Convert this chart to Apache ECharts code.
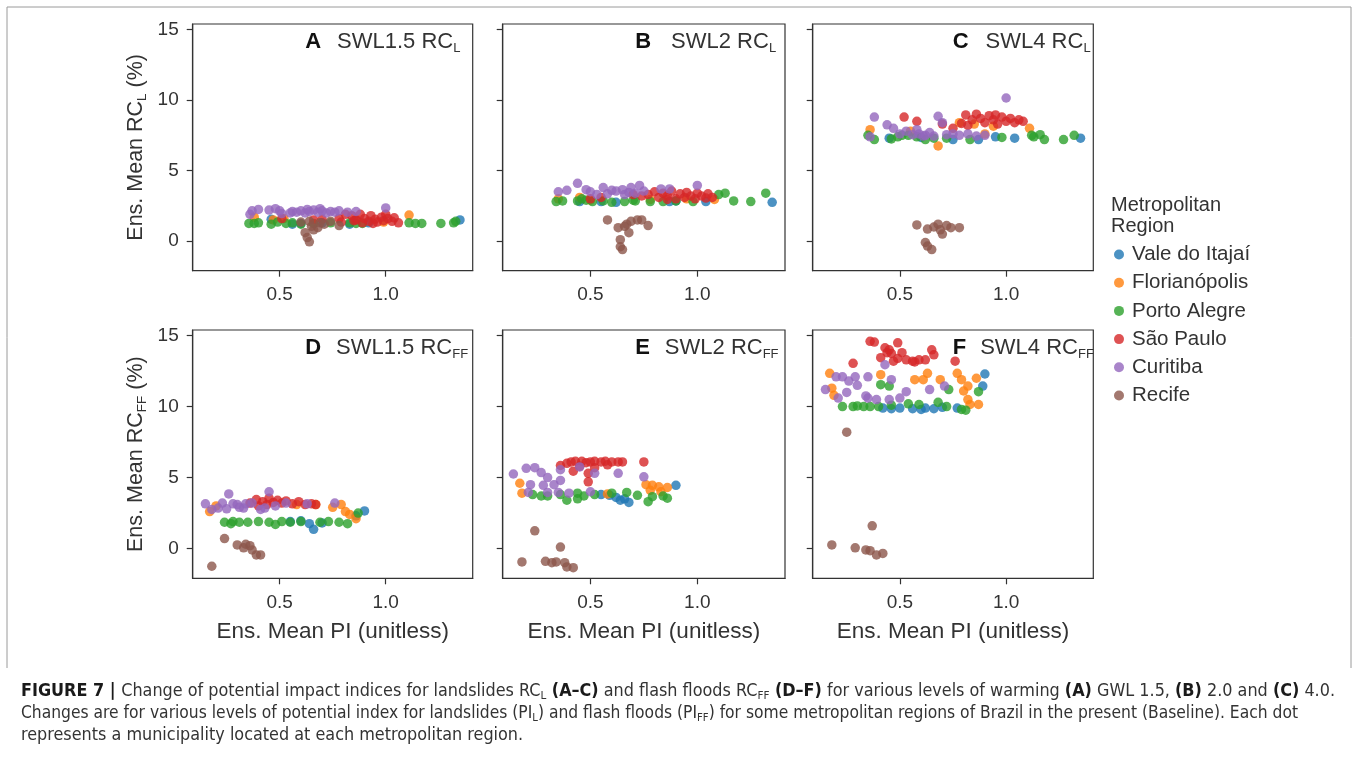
<!DOCTYPE html>
<html><head><meta charset="utf-8">
<script src="https://cdn.jsdelivr.net/npm/echarts@6/dist/echarts.min.js"></script>
<style>html,body{margin:0;padding:0;background:#fff}#c{width:1358px;height:763px}</style>
</head><body><div id="c"></div>
<script>
// ---------------- data ----------------
const regions = ['Vale do Itajaí','Florianópolis','Porto Alegre','São Paulo','Curitiba','Recife'];
const colors = ['#1f77b4','#ff7f0e','#2ca02c','#d62728','#9467bd','#8c564b'];
const xTicks = [0.5, 1.0];
const yTicks = [0, 5, 10, 15];
const panelLetters = ['A','B','C','D','E','F'];
const panelLevels = ['SWL1.5','SWL2','SWL4','SWL1.5','SWL2','SWL4'];
const panelSubs = ['L','L','L','FF','FF','FF'];

// Panel A: SWL1.5 RC_L
const A_vale = [[0.46,1.55],[0.56,1.2],[0.6,1.25],[0.83,1.2],[0.92,1.3],[1.35,1.5],[0.70,1.3]];
const A_flor = [[0.47,1.5],[0.52,1.6],[1.11,1.85],[0.99,1.35],[0.38,1.7],[0.86,1.5]];
const A_porto = [[0.355,1.25],[0.38,1.25],[0.40,1.3],[0.46,1.2],[0.49,1.35],[0.53,1.25],[0.56,1.3],[0.60,1.2],[0.66,1.25],[0.74,1.3],[0.83,1.3],[0.86,1.25],[0.89,1.25],[1.11,1.3],[1.14,1.25],[1.17,1.25],[1.26,1.25],[1.32,1.3],[1.33,1.4]];
const A_sp = [[0.51,1.6],[0.78,1.6],[0.81,1.9],[0.84,1.8],[0.86,1.5],[0.88,1.9],[0.9,1.6],[0.92,1.4],[0.93,1.8],[0.95,1.55],[0.96,1.35],[0.98,1.7],[0.99,1.45],[1.0,1.9],[1.01,1.6],[1.03,1.4],[1.04,1.65],[1.06,1.3],[0.94,1.25],[0.89,1.3],[0.85,1.45],[0.79,1.35],[0.66,1.5],[0.70,1.55]];
const A_curi = [[0.36,1.9],[0.37,2.15],[0.4,2.25],[0.45,2.2],[0.48,2.3],[0.5,2.15],[0.51,1.95],[0.56,2.1],[0.58,2.05],[0.6,2.15],[0.62,2.0],[0.64,2.1],[0.66,2.2],[0.68,2.05],[0.7,2.15],[0.72,2.0],[0.74,2.1],[0.76,2.05],[0.78,2.15],[0.82,2.05],[0.86,2.1],[1.0,2.35],[0.55,2.0],[0.63,2.25],[0.69,2.3]];
const A_recife = [[0.6,1.35],[0.64,1.4],[0.69,1.3],[0.74,1.4],[0.78,1.1],[0.62,0.6],[0.63,0.25],[0.64,-0.05],[0.68,0.95],[0.71,1.2],[0.66,0.8],[0.65,1.05]];

// Panel B: SWL2 RC_L
const B_vale = [[0.45,2.8],[0.55,2.8],[0.62,2.75],[0.87,2.8],[0.9,2.85],[1.04,2.8],[1.35,2.75]];
const B_flor = [[0.35,3.0],[0.5,2.9],[0.78,2.95],[0.95,3.0],[1.08,2.95],[0.45,3.1]];
const B_porto = [[0.34,2.8],[0.37,2.85],[0.44,2.85],[0.48,2.9],[0.51,2.8],[0.56,2.85],[0.6,2.75],[0.66,2.8],[0.71,2.85],[0.78,2.8],[0.84,2.8],[0.9,2.85],[0.98,2.8],[1.1,3.3],[1.13,3.4],[1.17,2.85],[1.25,2.8],[1.32,3.4],[0.7,2.9],[0.46,3.0]];
const B_sp = [[0.77,3.3],[0.8,3.5],[0.82,3.1],[0.84,3.4],[0.86,3.2],[0.88,3.55],[0.9,3.0],[0.92,3.35],[0.94,3.1],[0.95,3.45],[0.97,3.2],[0.99,3.0],[1.0,3.4],[1.02,3.2],[1.04,3.05],[1.05,3.35],[1.07,3.1],[0.86,2.95],[0.74,3.2],[0.7,3.3],[0.5,3.0],[0.55,3.1]];
const B_curi = [[0.35,3.5],[0.39,3.6],[0.44,4.1],[0.48,3.65],[0.5,3.5],[0.56,3.8],[0.58,3.35],[0.62,3.55],[0.65,3.65],[0.68,3.45],[0.69,3.8],[0.73,3.95],[0.75,3.55],[0.83,3.7],[0.87,3.7],[1.0,3.95],[0.6,3.6],[0.66,3.3],[0.71,3.4],[0.53,3.3]];
const B_recife = [[0.58,1.5],[0.63,0.95],[0.66,1.05],[0.69,1.4],[0.72,1.5],[0.74,1.5],[0.77,1.1],[0.68,0.6],[0.64,0.1],[0.64,-0.4],[0.65,-0.6],[0.67,1.2]];

// Panel C: SWL4 RC_L
const C_vale = [[0.45,7.3],[0.75,7.2],[0.87,7.2],[1.04,7.3],[1.35,7.3],[0.6,7.35],[0.95,7.4]];
const C_flor = [[0.36,7.9],[0.68,6.75],[0.85,8.3],[0.94,8.15],[1.11,8.0],[0.55,7.8],[0.78,8.4],[0.9,7.6]];
const C_porto = [[0.35,7.5],[0.38,7.2],[0.46,7.25],[0.49,7.4],[0.51,7.5],[0.54,7.5],[0.58,7.4],[0.62,7.2],[0.72,7.3],[0.83,7.2],[0.98,7.35],[1.12,7.5],[1.13,7.4],[1.16,7.55],[1.18,7.2],[1.27,7.2],[1.32,7.5],[0.66,7.3]];
const C_sp = [[0.58,8.5],[0.79,8.35],[0.81,8.95],[0.84,8.6],[0.86,9.0],[0.88,8.7],[0.9,8.4],[0.92,8.9],[0.94,8.6],[0.96,8.3],[0.98,8.8],[1.0,8.5],[1.02,8.7],[1.04,8.4],[1.06,8.6],[1.08,8.5],[0.82,8.2],[0.95,8.95],[0.7,8.3],[0.75,8.0],[0.52,8.8]];
const C_curi = [[0.36,7.4],[0.38,8.8],[0.44,8.25],[0.47,8.0],[0.5,7.6],[0.53,7.8],[0.56,7.55],[0.59,7.6],[0.62,7.5],[0.64,7.7],[0.66,7.45],[0.68,8.85],[0.7,8.4],[0.72,7.55],[0.75,7.6],[0.78,7.5],[0.82,7.6],[0.86,7.45],[0.9,7.5],[1.0,10.15],[0.58,7.9],[0.61,7.45]];
const C_recife = [[0.58,1.15],[0.63,0.85],[0.66,1.0],[0.68,1.2],[0.7,0.5],[0.74,0.95],[0.78,0.95],[0.62,-0.1],[0.63,-0.35],[0.65,-0.6],[0.69,0.8],[0.72,1.1]];

// Panel D: SWL1.5 RC_FF
const D_vale = [[0.6,1.95],[0.64,1.75],[0.66,1.35],[0.7,1.8],[0.9,2.65],[0.86,2.3],[0.55,1.9]];
const D_flor = [[0.17,2.6],[0.2,3.0],[0.58,3.1],[0.67,3.1],[0.79,3.1],[0.81,2.6],[0.86,2.1],[0.75,2.9],[0.83,2.4]];
const D_porto = [[0.24,1.85],[0.28,1.9],[0.31,1.85],[0.35,1.85],[0.4,1.9],[0.45,1.85],[0.51,1.9],[0.55,1.85],[0.6,1.9],[0.69,1.85],[0.73,1.9],[0.78,1.85],[0.82,1.75],[0.87,2.5],[0.27,1.75],[0.48,1.7]];
const D_sp = [[0.36,3.2],[0.39,3.45],[0.42,3.3],[0.45,3.55],[0.47,3.25],[0.49,3.4],[0.51,3.2],[0.53,3.35],[0.56,3.15],[0.59,3.3],[0.62,3.1],[0.65,3.15],[0.67,3.1],[0.44,3.1],[0.4,3.0]];
const D_curi = [[0.15,3.15],[0.18,2.75],[0.21,2.85],[0.23,3.2],[0.26,3.85],[0.28,3.15],[0.3,3.1],[0.33,2.85],[0.34,3.15],[0.37,3.2],[0.41,2.75],[0.45,4.0],[0.48,3.0],[0.53,3.2],[0.63,3.15],[0.76,3.2],[0.25,2.8],[0.31,2.9],[0.43,2.85]];
const D_recife = [[0.24,0.7],[0.3,0.25],[0.34,0.3],[0.37,-0.1],[0.39,-0.45],[0.41,-0.45],[0.18,-1.25],[0.33,0.05],[0.36,0.2]];

// Panel E: SWL2 RC_FF
const E_vale = [[0.59,3.75],[0.62,3.6],[0.64,3.4],[0.68,3.25],[0.9,4.45],[0.55,3.8],[0.66,3.5]];
const E_flor = [[0.17,4.6],[0.18,3.9],[0.58,3.85],[0.76,4.5],[0.79,4.45],[0.82,4.35],[0.86,4.3],[0.78,4.1],[0.83,4.0]];
const E_porto = [[0.23,3.8],[0.27,3.7],[0.3,3.7],[0.36,3.8],[0.39,3.4],[0.44,3.5],[0.47,3.7],[0.52,3.8],[0.6,3.9],[0.67,3.95],[0.72,3.75],[0.79,3.65],[0.84,3.7],[0.86,3.55],[0.77,3.3],[0.44,3.9]];
const E_sp = [[0.36,5.85],[0.39,6.0],[0.41,6.1],[0.43,6.15],[0.46,6.15],[0.48,6.05],[0.5,6.1],[0.52,6.15],[0.55,6.1],[0.57,6.15],[0.6,6.1],[0.63,6.1],[0.65,6.1],[0.75,6.1],[0.42,5.45],[0.49,4.7],[0.49,5.3],[0.52,5.7],[0.45,5.8],[0.58,5.9]];
const E_curi = [[0.14,5.25],[0.2,5.65],[0.24,5.7],[0.27,5.35],[0.3,5.0],[0.36,5.55],[0.22,4.5],[0.28,4.45],[0.33,4.5],[0.4,3.9],[0.45,5.75],[0.52,5.3],[0.63,5.3],[0.75,5.05],[0.21,3.95],[0.35,3.95],[0.3,3.95],[0.5,4.0],[0.36,4.8]];
const E_recife = [[0.24,1.25],[0.18,-0.95],[0.29,-0.9],[0.34,-0.95],[0.36,0.1],[0.38,-1.0],[0.39,-1.3],[0.42,-1.35],[0.32,-1.0]];

// Panel F: SWL4 RC_FF
const F_vale = [[0.9,12.3],[0.89,11.45],[0.42,9.9],[0.46,9.85],[0.5,9.9],[0.56,9.85],[0.62,9.9],[0.66,9.85],[0.7,9.95],[0.77,9.9],[0.6,9.8]];
const F_flor = [[0.17,12.35],[0.18,11.3],[0.41,12.25],[0.57,11.9],[0.61,11.9],[0.63,12.35],[0.69,11.9],[0.77,12.35],[0.79,11.9],[0.82,11.45],[0.86,12.0],[0.83,10.15],[0.87,10.15],[0.82,10.5],[0.19,10.8],[0.8,11.1]];
const F_porto = [[0.23,10.0],[0.28,10.0],[0.3,10.05],[0.33,10.0],[0.4,10.0],[0.46,10.1],[0.54,10.2],[0.59,10.15],[0.68,10.3],[0.72,10.0],[0.79,9.8],[0.81,9.75],[0.41,11.55],[0.45,11.45],[0.73,11.2],[0.87,11.05],[0.36,10.0]];
const F_sp = [[0.36,14.6],[0.38,14.55],[0.49,14.5],[0.43,14.15],[0.45,14.0],[0.41,13.45],[0.46,13.75],[0.49,13.4],[0.53,13.3],[0.56,13.2],[0.59,13.3],[0.65,14.0],[0.66,13.65],[0.28,13.05],[0.76,13.2],[0.44,13.8],[0.51,13.8],[0.57,13.15],[0.62,13.3],[0.47,13.2]];
const F_curi = [[0.15,11.2],[0.2,12.1],[0.23,12.1],[0.29,12.1],[0.35,12.1],[0.21,10.6],[0.26,11.8],[0.3,11.5],[0.35,10.6],[0.39,10.5],[0.43,12.95],[0.46,11.9],[0.53,11.05],[0.64,11.2],[0.71,11.45],[0.5,10.6],[0.34,10.75],[0.45,10.5],[0.25,11.0]];
const F_recife = [[0.25,8.2],[0.18,0.25],[0.29,0.05],[0.34,-0.1],[0.39,-0.45],[0.42,-0.35],[0.37,1.6],[0.36,-0.15]];

const panelData = [
  [A_vale, A_flor, A_porto, A_sp, A_curi, A_recife],
  [B_vale, B_flor, B_porto, B_sp, B_curi, B_recife],
  [C_vale, C_flor, C_porto, C_sp, C_curi, C_recife],
  [D_vale, D_flor, D_porto, D_sp, D_curi, D_recife],
  [E_vale, E_flor, E_porto, E_sp, E_curi, E_recife],
  [F_vale, F_flor, F_porto, F_sp, F_curi, F_recife]
];

// caption text (tokens: style, text)
const captionLines = [
  [['b','FIGURE 7 | '],['n','Change of potential impact indices for landslides RC'],['s','L'],['b',' (A–C)'],['n',' and flash floods RC'],['s','FF'],['b',' (D–F)'],['n',' for various levels of warming '],['b','(A)'],['n',' GWL 1.5, '],['b','(B)'],['n',' 2.0 and '],['b','(C)'],['n',' 4.0.']],
  [['n','Changes are for various levels of potential index for landslides (PI'],['s','L'],['n',') and flash floods (PI'],['s','FF'],['n',') for some metropolitan regions of Brazil in the present (Baseline). Each dot']],
  [['n','represents a municipality located at each metropolitan region.']]
];

// ---------------- layout ----------------
const FONT = "'Liberation Sans', Arial, sans-serif";
const CAPFONT = "'Liberation Sans Narrow','DejaVu Sans Condensed','Arial Narrow','Liberation Sans',sans-serif";
const colLeft = [192.7, 502.7, 812.7];
const colWidth = [280, 282.3, 280.6];
const rowTop = [24, 330];
const rowHeight = [246.7, 248.3];
const titleOffset = [112.5, 132.5, 140];
const titleGap = [16, 20, 17, 15, 15, 14];
const X_MIN = 0.09, X_MAX = 1.41, Y_MIN = -2.1, Y_MAX = 15.4;
const AX = '#333';

const grids = [], xAxes = [], yAxes = [], series = [], graphics = [];
for (let p = 0; p < 6; p++) {
  const c = p % 3, r = Math.floor(p / 3);
  grids.push({left: colLeft[c], top: rowTop[r], width: colWidth[c], height: rowHeight[r],
    show: true, borderColor: AX, borderWidth: 1.2, backgroundColor: 'transparent'});
  xAxes.push({
    gridIndex: p, type: 'value', min: X_MIN, max: X_MAX,
    axisLine: {show: true, onZero: false, lineStyle: {color: AX, width: 1.2}},
    axisTick: {show: true, customValues: xTicks, length: 6, lineStyle: {color: AX, width: 1.2}},
    axisLabel: {customValues: xTicks, formatter: v => v.toFixed(1), margin: 15, fontSize: 19, color: '#333', fontFamily: FONT},
    splitLine: {show: false},
    name: r === 1 ? 'Ens. Mean PI (unitless)' : '',
    nameLocation: 'middle', nameGap: 42,
    nameTextStyle: {fontSize: 22.5, color: '#333', fontFamily: FONT}
  });
  const sub = r === 0 ? 'L' : 'FF';
  yAxes.push({
    gridIndex: p, type: 'value', min: Y_MIN, max: Y_MAX,
    axisLine: {show: true, onZero: false, lineStyle: {color: AX, width: 1.2}},
    axisTick: {show: true, customValues: yTicks, length: 6, lineStyle: {color: AX, width: 1.2}},
    axisLabel: {show: c === 0, customValues: yTicks, margin: 14, fontSize: 19, color: '#333', fontFamily: FONT},
    splitLine: {show: false},
    name: c === 0 ? '{n|Ens. Mean RC}{s|' + sub + '}{n| (%)}' : '',
    nameLocation: 'middle', nameGap: 43, nameRotate: 90,
    nameTextStyle: {color: '#333', fontFamily: FONT, rich: {
      n: {fontSize: 21.5, color: '#333', fontFamily: FONT, lineHeight: 28},
      s: {fontSize: 13.5, color: '#333', fontFamily: FONT, lineHeight: 28, verticalAlign: 'bottom'}
    }}
  });
  for (let k = 0; k < 6; k++) {
    series.push({
      type: 'scatter', name: regions[k], xAxisIndex: p, yAxisIndex: p,
      data: panelData[p][k], symbolSize: 9.5,
      itemStyle: {color: colors[k], opacity: 0.8},
      emphasis: {disabled: true}, animation: false
    });
  }
  // panel title
  graphics.push({
    type: 'text', x: colLeft[c] + titleOffset[c], y: rowTop[r] + 18,
    style: {
      text: '{b|' + panelLetters[p] + '}{n|' + panelLevels[p] + ' RC}{s|' + panelSubs[p] + '}',
      align: 'left', verticalAlign: 'middle',
      rich: {
        b: {fontSize: 22, fontWeight: 'bold', fill: '#111', color: '#111', fontFamily: FONT, lineHeight: 26, padding: [0, titleGap[p], 0, 0]},
        n: {fontSize: 22, fill: '#333', color: '#333', fontFamily: FONT, lineHeight: 26},
        s: {fontSize: 13, fill: '#333', color: '#333', fontFamily: FONT, lineHeight: 26, verticalAlign: 'bottom'}
      }
    }
  });
}

// legend title
graphics.push({type: 'text', x: 1111, y: 195, style: {text: 'Metropolitan\nRegion', font: '20px ' + FONT, fill: '#333', lineHeight: 21, verticalAlign: 'top'}});

// caption
const capSize = 17;
const capRich = {
  n: {fontSize: capSize, fontFamily: CAPFONT, color: '#333', fill: '#333', lineHeight: 20},
  b: {fontSize: capSize, fontFamily: CAPFONT, fontWeight: 'bold', color: '#1a1a1a', fill: '#1a1a1a', lineHeight: 20},
  s: {fontSize: 11, fontFamily: CAPFONT, color: '#333', fill: '#333', lineHeight: 20, verticalAlign: 'bottom'}
};
const mctx = document.createElement('canvas').getContext('2d');
function lineWidth(tokens) {
  let w = 0;
  for (const [st, t] of tokens) {
    const s = capRich[st];
    mctx.font = (s.fontWeight || 'normal') + ' ' + s.fontSize + 'px ' + s.fontFamily;
    w += mctx.measureText(t).width;
  }
  return w;
}
const capTargets = [1314, 1277, 607];
const capY = [692, 714, 736];
const baseScale = capTargets[0] / lineWidth(captionLines[0]);
captionLines.forEach((tokens, i) => {
  const sc = Math.min(baseScale, capTargets[i] / lineWidth(tokens));
  graphics.push({
    type: 'text', x: 21, y: capY[i], scaleX: sc, scaleY: 1,
    style: {text: tokens.map(([s, t]) => '{' + s + '|' + t + '}').join(''), rich: capRich, verticalAlign: 'middle', align: 'left'}
  });
});

// outer frame
graphics.push({type: 'polyline', shape: {points: [[7, 668], [7, 7], [1351, 7], [1351, 668]]}, style: {stroke: '#9a9a9a', lineWidth: 1, fill: null}});

const chart = echarts.init(document.getElementById('c'), null, {renderer: 'canvas'});
chart.setOption({
  animation: false,
  backgroundColor: '#fff',
  grid: grids, xAxis: xAxes, yAxis: yAxes, series: series,
  legend: {
    data: regions, orient: 'vertical', left: 1109, top: 239, icon: 'circle',
    itemWidth: 10, itemHeight: 10, itemGap: 7.2, selectedMode: false,
    textStyle: {fontSize: 20.5, color: '#333', fontFamily: FONT, lineHeight: 20, padding: [0, 0, 0, 3]}
  },
  graphic: graphics
});
</script></body></html>
